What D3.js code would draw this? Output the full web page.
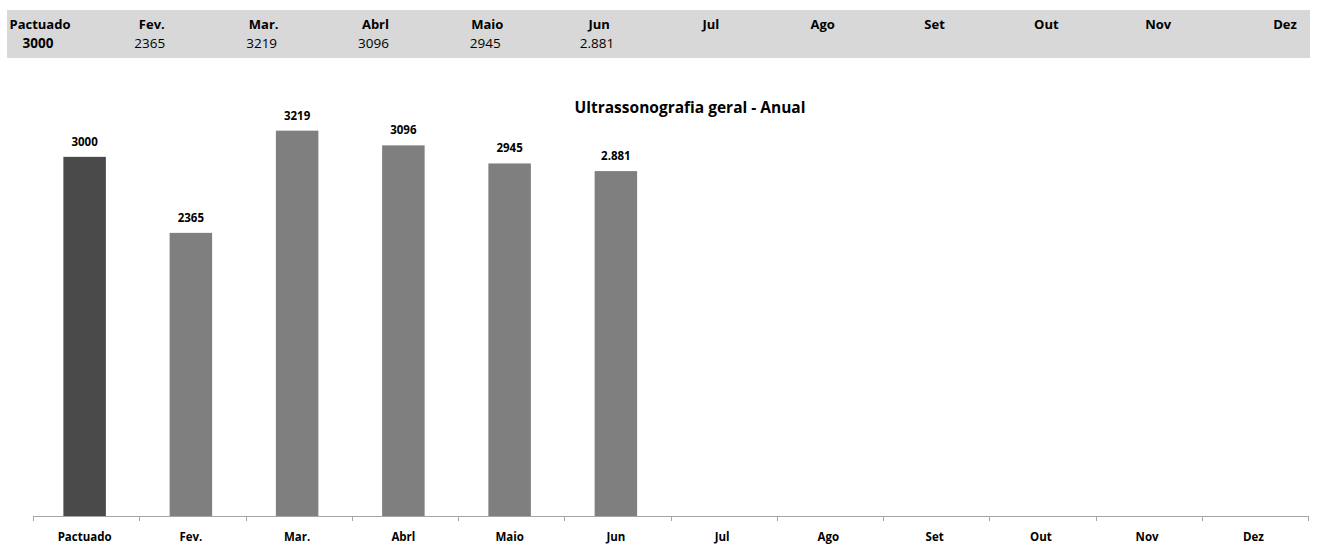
<!DOCTYPE html>
<html>
<head>
<meta charset="utf-8">
<script src="https://cdn.jsdelivr.net/npm/d3@7"></script>
<style>
  body { margin: 0; background: #fff; }
  text { font-family: "Open Sans", Lato, sans-serif; }
</style>
</head>
<body>
<div class="chart"></div>
<script>
const width = 1317
const height = 545

// data
const categories = ['Pactuado','Fev.','Mar.','Abrl','Maio','Jun','Jul','Ago','Set','Out','Nov','Dez']
const values = [3000, 2365, 3219, 3096, 2945, 2881, null, null, null, null, null, null]
const valueLabels = ['3000','2365','3219','3096','2945','2.881','','','','','','']
const title = 'Ultrassonografia geral - Anual'

const svg = d3.select('.chart')
    .append('svg')
        .attr('width', width)
        .attr('height', height)

// table strip on top
const table = svg.append('g')
table.append('rect')
    .attr('x', 7).attr('y', 10)
    .attr('width', 1303).attr('height', 48)
    .attr('fill', '#d8d8d8')

const tx = d3.scalePoint()
    .domain(categories)
    .range([40, 1270])

table.selectAll('text.head')
    .data(categories)
    .join('text')
        .attr('class', 'head')
        .attr('x', (d, i) => i == 11 ? 1285 : tx(d))
        .attr('y', 29)
        .attr('text-anchor', 'middle')
        .attr('font-size', 13)
        .attr('font-weight', 'bold')
        .attr('fill', '#000')
        .text(d => d)

table.selectAll('text.val')
    .data(categories)
    .join('text')
        .attr('class', 'val')
        .attr('x', d => tx(d) - 2)
        .attr('y', 48)
        .attr('text-anchor', 'middle')
        .attr('font-size', 13.5)
        .attr('font-weight', (d, i) => i == 0 ? 'bold' : 'normal')
        .attr('fill', '#000')
        .text((d, i) => valueLabels[i])

// bar chart
const x = d3.scaleBand()
    .domain(categories)
    .range([31.5, 1306.5])
    .paddingInner(0.6)
    .paddingOuter(0.3)

const xTicks = d3.scaleBand()
    .domain(categories)
    .range([33, 1308])

const y = d3.scaleLinear()
    .domain([0, 3500])
    .range([516, 97])

svg.append('text')
    .attr('x', 690)
    .attr('y', 113)
    .attr('text-anchor', 'middle')
    .attr('font-size', 15.5)
    .attr('font-weight', 'bold')
    .text(title)

const bars = categories.map((c, i) => ({cat: c, v: values[i], label: valueLabels[i]}))
    .filter(d => d.v != null)

svg.append('g')
    .selectAll('rect')
    .data(bars)
    .join('rect')
        .attr('x', d => x(d.cat))
        .attr('y', d => y(d.v))
        .attr('width', x.bandwidth())
        .attr('height', d => y(0) - y(d.v))
        .attr('fill', (d, i) => i == 0 ? '#4a4a4a' : '#7f7f7f')

svg.append('g')
    .selectAll('text')
    .data(bars)
    .join('text')
        .attr('x', d => x(d.cat) + x.bandwidth() / 2)
        .attr('y', d => y(d.v) - 11)
        .attr('text-anchor', 'middle')
        .attr('font-size', 11.5)
        .attr('font-weight', 'bold')
        .text(d => d.label)

// x axis with ticks at band edges
const axis = svg.append('g')
axis.append('line')
    .attr('x1', 33).attr('x2', 1308)
    .attr('y1', 516.5).attr('y2', 516.5)
    .attr('stroke', '#a6a6a6')
axis.selectAll('line.tick')
    .data(categories.concat(['end']))
    .join('line')
        .attr('class', 'tick')
        .attr('x1', (d, i) => Math.round(33 + i * xTicks.step()) + 0.5)
        .attr('x2', (d, i) => Math.round(33 + i * xTicks.step()) + 0.5)
        .attr('y1', 516).attr('y2', 521)
        .attr('stroke', '#a6a6a6')
axis.selectAll('text')
    .data(categories)
    .join('text')
        .attr('x', d => xTicks(d) + xTicks.bandwidth() / 2 - 1.5)
        .attr('y', 541)
        .attr('text-anchor', 'middle')
        .attr('font-size', 11.5)
        .attr('font-weight', 'bold')
        .text(d => d)
</script>
</body>
</html>
